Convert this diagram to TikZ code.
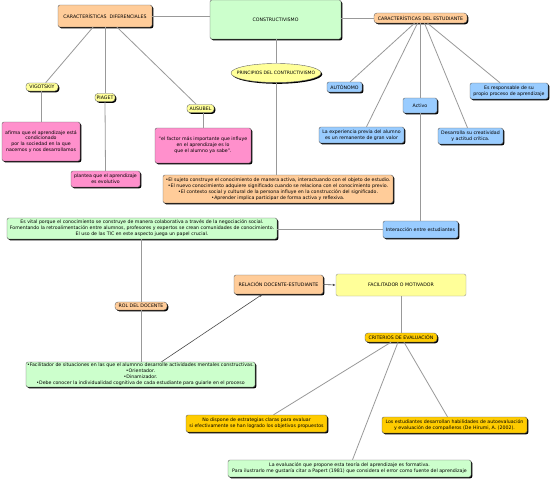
\documentclass[tikz,border=0pt]{standalone}
\usepackage{fontspec}
\setmainfont{DejaVu Sans}
\usetikzlibrary{shapes.geometric,shadows,arrows.meta}
\definecolor{peach}{HTML}{FFCC99}
\definecolor{mint}{HTML}{CCFFCC}
\definecolor{pinkb}{HTML}{FF90CC}
\definecolor{blueb}{HTML}{99CCFF}
\definecolor{yelb}{HTML}{FFFF99}
\definecolor{goldb}{HTML}{FFCC00}
\definecolor{linec}{HTML}{999999}
\tikzset{
  box/.style={draw=black!60, rounded corners=2pt, inner sep=0.5pt, align=center,
    font=\fontsize{4.7}{5.9}\selectfont,
    drop shadow={shadow xshift=1.3pt, shadow yshift=-1.3pt, fill=black, opacity=1}},
  plainbox/.style={draw=black!40, rounded corners=2pt, inner sep=0.5pt, align=center,
    font=\fontsize{4.7}{5.9}\selectfont},
  conn/.style={draw=linec, line width=0.8pt},
  arr/.style={draw=black!70, line width=0.6pt, -{Latex[length=3pt,width=2.6pt]}}
}
\begin{document}
\begin{tikzpicture}[x=1pt,y=-1pt]
\useasboundingbox[fill=white] (0,0) rectangle (550,480);
% top
\node[box, fill=mint, minimum width=131, minimum height=39] (con) at (275.5,19.5) {CONSTRUCTIVISMO};
\node[box, fill=peach, minimum width=94, minimum height=22] (cdif) at (105,16) {CARACTERÍSTICAS\ \ DIFERENCIALES};
\node[box, fill=peach, minimum width=93, minimum height=10, rounded corners=3pt] (cest) at (420.5,18) {CARACTERÍSTICAS DEL ESTUDIANTE};
\node[ellipse, draw=black!60, fill=yelb, inner xsep=-11pt, inner ysep=0pt, minimum width=90, minimum height=19,
  font=\fontsize{4.5}{5.6}\selectfont,
  drop shadow={shadow xshift=1.3pt, shadow yshift=-1.3pt, fill=black, opacity=1}] (prin) at (276,73) {PRINCIPIOS DEL CONTRUCTIVISMO};
% theorists
\node[box, fill=yelb, minimum width=32, minimum height=8, rounded corners=3pt] (vig) at (42,87) {VIGOTSKIY};
\node[box, fill=yelb, minimum width=20, minimum height=8, rounded corners=3pt] (pia) at (105,97.5) {PIAGET};
\node[box, fill=yelb, minimum width=27, minimum height=8, rounded corners=3pt] (aus) at (200.5,108.5) {AUSUBEL};
\node[box, fill=pinkb, minimum width=78, minimum height=39] (p1) at (41,141.5) {afirma que el aprendizaje está\\condicionado\\por la sociedad en la que\\nacemos y nos desarrollamos};
\node[box, fill=pinkb, minimum width=69, minimum height=16] (p2) at (105.5,179) {plantea que el aprendizaje\\es evolutivo};
\node[box, fill=pinkb, minimum width=96, minimum height=35] (p3) at (203,145.5) {“el factor más importante que influye\\en el aprendizaje es lo\\que el alumno ya sabe”.};
\node[box, fill=peach, minimum width=230, minimum height=28] (pbox) at (278,189) {•El sujeto construye el conocimiento de manera activa, interactuando con el objeto de estudio.\\•El nuevo conocimiento adquiere significado cuando se relaciona con el conocimiento previo.\\•El contexto social y cultural de la persona influye en la construcción del significado.\\•Aprender implica participar de forma activa y reflexiva.};
% student traits
\node[box, fill=blueb, minimum width=35, minimum height=10] (aut) at (344.5,87) {AUTÓNOMO};
\node[box, fill=blueb, minimum width=85, minimum height=16] (exp) at (361.5,135) {La experiencia previa del alumno\\es un remanente de gran valor};
\node[box, fill=blueb, minimum width=34, minimum height=15] (act) at (420,105.5) {Activo};
\node[box, fill=blueb, minimum width=65, minimum height=16] (cre) at (470.5,136) {Desarrolla su creatividad\\y actitud crítica.};
\node[box, fill=blueb, minimum width=78, minimum height=16] (res) at (509,91) {Es responsable de su\\propio proceso de aprendizaje};
\node[box, fill=blueb, minimum width=75, minimum height=17] (int) at (420.5,229.5) {Interacción entre estudiantes};
% middle
\node[box, fill=mint, minimum width=270, minimum height=21] (vital) at (142,228.5) {Es vital porque el conocimiento se construye de manera colaborativa a través de la negociación social.\\Fomentando la retroalimentación entre alumnos, profesores y expertos se crean comunidades de conocimiento.\\El uso de las TIC en este aspecto juega un papel crucial.};
\node[box, fill=peach, minimum width=52, minimum height=8, rounded corners=3pt] (rol) at (141,306) {ROL DEL DOCENTE};
\node[box, fill=mint, minimum width=229, minimum height=25] (doc) at (140.5,374.5) {•Facilitador de situaciones en las que el alumnno desarrolle actividades mentales constructivas.\\•Orientador.\\•Dinamizador.\\•Debe conocer la individualidad cognitiva de cada estudiante para guiarle en el proceso};
\node[box, fill=peach, minimum width=89, minimum height=19] (rel) at (278.5,284.5) {RELACIÓN DOCENTE-ESTUDIANTE};
\node[plainbox, fill=yelb, minimum width=130, minimum height=22] (fac) at (401,285) {FACILITADOR O MOTIVADOR};
\node[box, fill=goldb, minimum width=72, minimum height=9, rounded corners=3pt] (cri) at (401,337.5) {CRITERIOS DE EVALUACIÓN};
\node[box, fill=goldb, minimum width=141, minimum height=17] (g1) at (256.5,423.5) {No dispone de estrategias claras para evaluar\\si efectivamente se han logrado los objetivos propuestos};
\node[box, fill=goldb, minimum width=145, minimum height=16] (g2) at (454.5,425) {Los estudiantes desarrollan habilidades de autoevaluación\\y evaluación de compañeros (De Hirumi, A. (2002).};
\node[box, fill=mint, minimum width=243, minimum height=17] (g3) at (349.5,468.5) {La evaluación que propone esta teoría del aprendizaje es formativa.\\Para ilustrarlo me gustaría citar a Papert (1981) que considera el error como fuente del aprendizaje};
% connectors
\draw[conn] (con.west |- cdif.east) -- (cdif.east);
\draw[conn] (con.east |- cest.west) -- (cest.west);
\draw[conn] (con.south -| prin.north) -- (prin.north);
\draw[conn] (prin.south) -- (prin.south |- pbox.north);
\draw[conn] ([xshift=-12pt]cdif.south) -- (vig);
\draw[conn] (cdif.south) -- (pia.north);
\draw[conn] ([xshift=12pt]cdif.south) -- (aus);
\draw[conn] (vig.south -| p1.north) -- (p1.north);
\draw[conn] (pia.south) -- (p2.north);
\draw[conn] (aus.south -| p3.north) -- (p3.north);
\draw[conn] ([xshift=-6pt]cest.south) -- (aut);
\draw[conn] ([xshift=-3pt]cest.south) -- ([xshift=5pt]exp.north);
\draw[conn] (cest.south -| act.north) -- (act.north);
\draw[conn] ([xshift=4pt]cest.south) -- ([xshift=-3pt]cre.north);
\draw[conn] ([xshift=7pt]cest.south) -- ([xshift=-9pt]res.north);
\draw[conn] (act.south) -- (act.south |- int.north);
\draw[conn] (int.west) -- (int.west -| vital.east);
\draw[conn] (vital.south -| rol.north) -- (rol.north);
\draw[conn] (rol.south) -- (rol.south |- doc.north);
\draw[arr] ([xshift=21pt]doc.north) -- ([xshift=-16pt]rel.south);
\draw[arr] (rel.east) -- (fac.west);
\draw[conn] (fac.south) -- (cri.north);
\draw[conn] ([xshift=-10pt]cri.south) -- ([xshift=17pt]g1.north);
\draw[conn] ([xshift=-3pt]cri.south) -- ([xshift=3pt]g3.north);
\draw[conn] ([xshift=3pt]cri.south) -- ([xshift=-7pt]g2.north);
\end{tikzpicture}
\end{document}
